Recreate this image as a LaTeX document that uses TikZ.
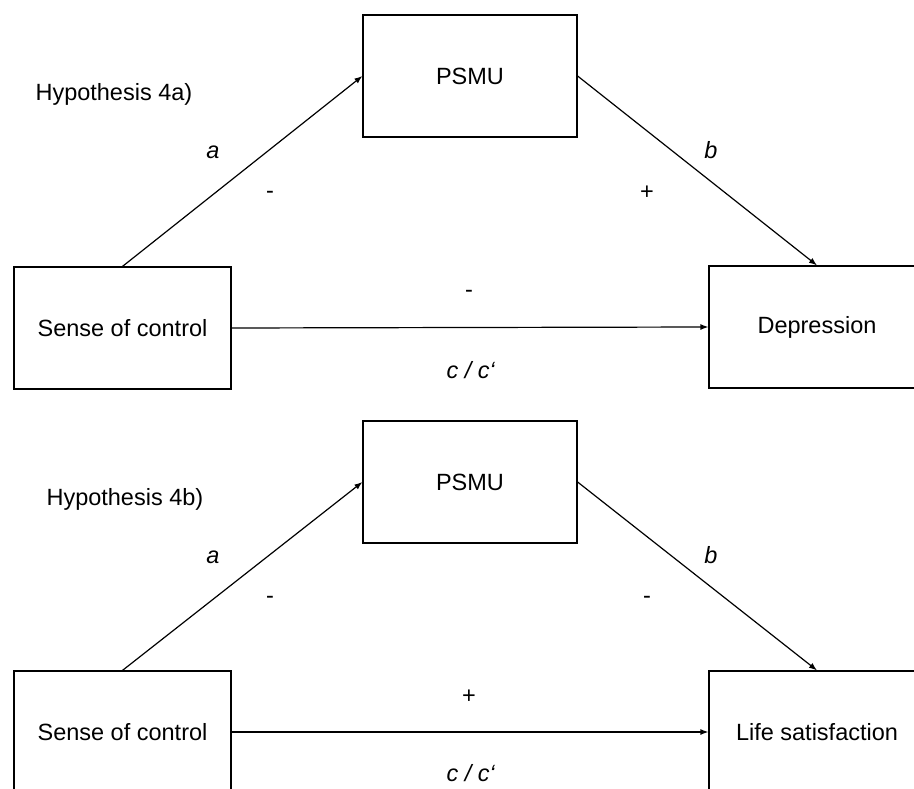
\documentclass[tikz,border=0pt]{standalone}
\usepackage{fontspec}
\setmainfont{Liberation Sans}
\usetikzlibrary{arrows.meta}

\tikzset{
  var/.style={draw, line width=1.2pt, minimum width=216pt, minimum height=122pt, inner sep=0pt},
  effect/.style={line width=1.2pt, -{Latex[length=8pt,width=6pt]}}
}

\begin{document}
\begin{tikzpicture}[x=1pt, y=-1pt, font=\fontsize{23.5}{28}\selectfont]
\path[use as bounding box, clip] (0,0) rectangle (914,789);
% Hypothesis 4a
\node[anchor=west] (hypA) at (32,94) {Hypothesis 4a)};
\node[var, minimum width=214pt] (psmuA) at (470,76) {PSMU};
\node[var, minimum width=217pt] (senseA) at (122.5,328) {Sense of control};
\node[var] (depA) at (817,327) {Depression};
\draw[effect] (senseA.north) -- (psmuA.west);
\draw[effect] (psmuA.east) -- (depA.north);
\draw[effect] (senseA.east) -- (depA.west);
\node (aA) at (213,152) {\textit{a}};
\node (saA) at (270,195) {-};
\node (bA) at (711,150) {\textit{b}};
\node (sbA) at (647,193) {+};
\node (scA) at (469,294) {-};
\node (cA) at (471,370) {\textit{c / c‘}};
% Hypothesis 4b
\begin{scope}[yshift=-405pt]
\node[anchor=west] (hypB) at (43,94) {Hypothesis 4b)};
\node[var, minimum width=214pt] (psmuB) at (470,77) {PSMU};
\node[var, minimum width=217pt] (senseB) at (122.5,327) {Sense of control};
\node[var] (lifeB) at (817,327) {Life satisfaction};
\draw[effect] (senseB.north) -- (psmuB.west);
\draw[effect] (psmuB.east) -- (lifeB.north);
\draw[effect] (senseB.east) -- (lifeB.west);
\node (aB) at (213,152) {\textit{a}};
\node (saB) at (270,195) {-};
\node (bB) at (711,150) {\textit{b}};
\node (sbB) at (647,195) {-};
\node (scB) at (469,292) {+};
\node (cB) at (471,368) {\textit{c / c‘}};
\end{scope}
\end{tikzpicture}
\end{document}
